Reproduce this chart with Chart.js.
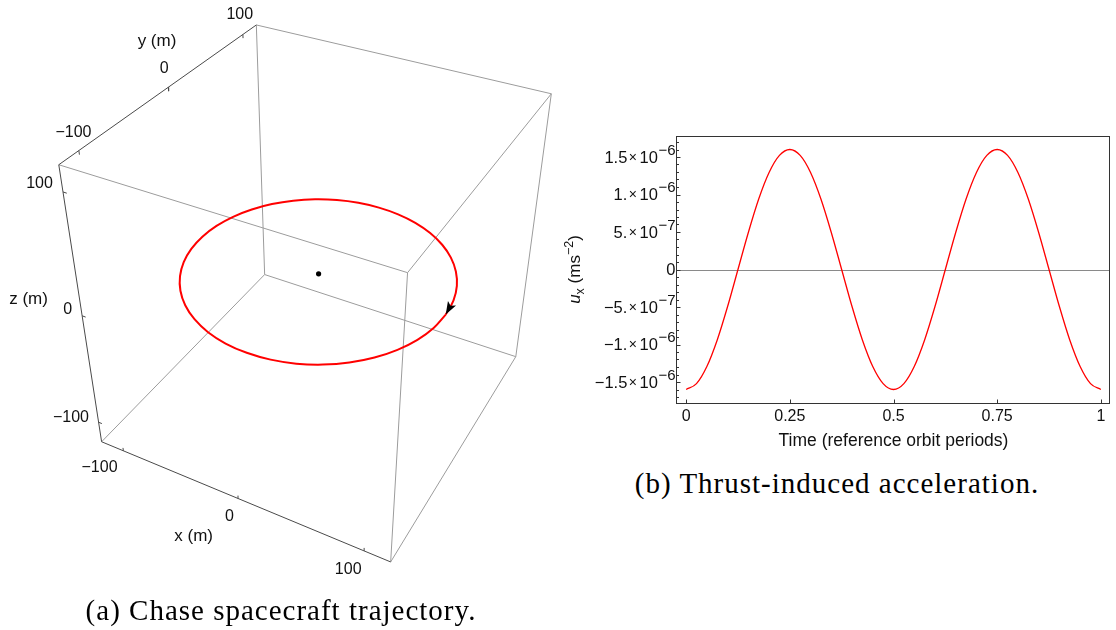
<!DOCTYPE html>
<html>
<head>
<meta charset="utf-8">
<title>Chase spacecraft trajectory and thrust-induced acceleration</title>
<script src="https://cdn.jsdelivr.net/npm/chart.js@4.4.1/dist/chart.umd.min.js"></script>
<style>
  html, body { margin: 0; padding: 0; background: #fff; }
  #wrap { position: relative; width: 1116px; height: 630px; overflow: hidden; background: #fff; }
  #c3d { position: absolute; left: 0; top: 0; }
  #c2d { position: absolute; left: 560px; top: 120px; }
  .cap {
    position: absolute; white-space: nowrap; color: #000;
    font-family: "Liberation Serif", "Times New Roman", serif;
    font-size: 29px; letter-spacing: 1px; line-height: 30px;
    transform: translateX(-50%);
  }
</style>
</head>
<body>
<div id="wrap">
  <canvas id="c3d" width="580" height="600"></canvas>
  <canvas id="c2d" width="556" height="330"></canvas>
  <div class="cap" style="left:281px; top:595px;">(a) Chase spacecraft trajectory.</div>
  <div class="cap" style="left:837px; top:468px;">(b) Thrust-induced acceleration.</div>
</div>
<script>
// ---------------- data: relative trajectory (metres) ----------------
const trajX = [100, 98.5, 94.0, 86.6, 76.6, 64.3, 50.0, 34.2, 17.4, 0, -17.4, -34.2, -50.0, -64.3, -76.6, -86.6, -94.0, -98.5,
               -100, -98.5, -94.0, -86.6, -76.6, -64.3, -50.0, -34.2, -17.4, 0, 17.4, 34.2, 50.0, 64.3, 76.6, 86.6, 94.0, 98.5, 100];
const trajY = [0, -17.4, -34.2, -50.0, -64.3, -76.6, -86.6, -94.0, -98.5, -100, -98.5, -94.0, -86.6, -76.6, -64.3, -50.0, -34.2, -17.4,
               0, 17.4, 34.2, 50.0, 64.3, 76.6, 86.6, 94.0, 98.5, 100, 98.5, 94.0, 86.6, 76.6, 64.3, 50.0, 34.2, 17.4, 0];
const trajPlaneZ = 0;              // the trajectory lies in the z = 0 plane
const targetPos = [0, 0, 0];       // target spacecraft at the origin
const boxRange = [-120, 120];      // plot range on every axis (m)
const axisTicks = [-100, 0, 100];
const axisTickLabels = ["\u2212100", "0", "100"];

// ---------------- data: thrust-induced acceleration ----------------
const timePeriods = [0, 0.025, 0.05, 0.075, 0.1, 0.125, 0.15, 0.175, 0.2, 0.225, 0.25, 0.275, 0.3, 0.325, 0.35, 0.375, 0.4, 0.425, 0.45, 0.475,
                     0.5, 0.525, 0.55, 0.575, 0.6, 0.625, 0.65, 0.675, 0.7, 0.725, 0.75, 0.775, 0.8, 0.825, 0.85, 0.875, 0.9, 0.925, 0.95, 0.975, 1];
const uxValues = [-1.6e-6, -1.522e-6, -1.294e-6, -0.94e-6, -0.494e-6, 0, 0.494e-6, 0.94e-6, 1.294e-6, 1.522e-6,
                  1.6e-6, 1.522e-6, 1.294e-6, 0.94e-6, 0.494e-6, 0, -0.494e-6, -0.94e-6, -1.294e-6, -1.522e-6,
                  -1.6e-6, -1.522e-6, -1.294e-6, -0.94e-6, -0.494e-6, 0, 0.494e-6, 0.94e-6, 1.294e-6, 1.522e-6,
                  1.6e-6, 1.522e-6, 1.294e-6, 0.94e-6, 0.494e-6, 0, -0.494e-6, -0.94e-6, -1.294e-6, -1.522e-6, -1.6e-6];
const timeTicks = [0, 0.25, 0.5, 0.75, 1];
const timeTickLabels = ["0", "0.25", "0.5", "0.75", "1"];
const accelTicks = [1.5e-6, 1e-6, 5e-7, 0, -5e-7, -1e-6, -1.5e-6];
const accelMantissa = ["1.5", "1.", "5.", "0", "\u22125.", "\u22121.", "\u22121.5"];
const accelExponent = ["\u22126", "\u22126", "\u22127", "", "\u22127", "\u22126", "\u22126"];

// ---------------- perspective view of the 3D box ----------------
const SANS = '"Liberation Sans", Arial, sans-serif';
const BOX_HALF = 120;
const view = {
  origin: [319, 273.5],
  ex: [130.5, 32.5],
  ey: [113.3, -58.9],
  ez: [-27.25, -159.3],
  depth: [-0.054, 0.105, -0.086]
};
function project(x, y, z) {
  const u = x / BOX_HALF, v = y / BOX_HALF, w = z / BOX_HALF;
  const d = 1 + view.depth[0] * u + view.depth[1] * v + view.depth[2] * w;
  return {
    x: (view.origin[0] + view.ex[0] * u + view.ey[0] * v + view.ez[0] * w) / d,
    y: (view.origin[1] + view.ex[1] * u + view.ey[1] * v + view.ez[1] * w) / d
  };
}

const lo = boxRange[0], hi = boxRange[1];
const EDGE_COLOR = '#9c9c9c';
const AXIS_COLOR = '#4a4a4a';
const datasets3d = [];

// trajectory (drawn on top)
datasets3d.push({
  label: 'trajectory',
  data: trajX.map((x, i) => project(x, trajY[i], trajPlaneZ)),
  showLine: true, borderColor: '#ff0000', borderWidth: 2, tension: 0.4,
  pointRadius: 0, order: 0
});
// target marker
datasets3d.push({
  label: 'target',
  data: [project(targetPos[0], targetPos[1], targetPos[2])],
  showLine: false, pointRadius: 2.6, pointBackgroundColor: '#000', pointBorderWidth: 0, order: 0
});

// the 12 box edges; the three labelled axes are darker
function isAxisEdge(k, a, b) {
  if (k === 0) return a === lo && b === lo;   // x axis: y = lo, z = lo
  if (k === 1) return a === lo && b === hi;   // y axis: x = lo, z = hi
  return a === lo && b === lo;                // z axis: x = lo, y = lo
}
for (let k = 0; k < 3; k++) {
  for (const a of [lo, hi]) {
    for (const b of [lo, hi]) {
      let p0, p1;
      if (k === 0) { p0 = [lo, a, b]; p1 = [hi, a, b]; }
      else if (k === 1) { p0 = [a, lo, b]; p1 = [a, hi, b]; }
      else { p0 = [a, b, lo]; p1 = [a, b, hi]; }
      const axis = isAxisEdge(k, a, b);
      datasets3d.push({
        label: 'edge',
        data: [project(...p0), project(...p1)],
        showLine: true, borderColor: axis ? AXIS_COLOR : EDGE_COLOR, borderWidth: 1,
        pointRadius: 0, tension: 0, order: axis ? 1 : 2
      });
    }
  }
}
// tick marks on the three axes
const TICK_LEN = 3;
axisTicks.forEach(t => {
  datasets3d.push({ label: 'tick', data: [project(t, lo, lo), project(t, lo, lo + TICK_LEN)],
    showLine: true, borderColor: AXIS_COLOR, borderWidth: 1, pointRadius: 0, order: 1 });
  datasets3d.push({ label: 'tick', data: [project(lo, t, hi), project(lo, t, hi - TICK_LEN)],
    showLine: true, borderColor: AXIS_COLOR, borderWidth: 1, pointRadius: 0, order: 1 });
  datasets3d.push({ label: 'tick', data: [project(lo, lo, t), project(lo + TICK_LEN, lo, t)],
    showLine: true, borderColor: AXIS_COLOR, borderWidth: 1, pointRadius: 0, order: 1 });
});

// arrowhead at the end of the trajectory, along the drawn curve
const arrowPlugin = {
  id: 'arrowHead',
  afterDatasetsDraw(chart) {
    const meta = chart.getDatasetMeta(0);
    const pts = meta.data;
    const end = pts[pts.length - 1];
    const prev = pts[pts.length - 2];
    let dx = end.x - (end.cp1x !== undefined ? end.cp1x : prev.x);
    let dy = end.y - (end.cp1y !== undefined ? end.cp1y : prev.y);
    if (Math.hypot(dx, dy) < 0.5) { dx = end.x - prev.x; dy = end.y - prev.y; }
    const ang = Math.atan2(dy, dx);
    const ctx = chart.ctx;
    ctx.save();
    ctx.translate(end.x, end.y);
    ctx.rotate(ang);
    ctx.beginPath();
    ctx.moveTo(0, 0);
    ctx.lineTo(-13, -4.6);
    ctx.lineTo(-10, 0);
    ctx.lineTo(-13, 4.6);
    ctx.closePath();
    ctx.fillStyle = '#000';
    ctx.fill();
    ctx.restore();
  }
};

// tick labels and axis titles of the 3D box
const boxLabelPlugin = {
  id: 'boxLabels',
  afterDraw(chart) {
    const ctx = chart.ctx;
    ctx.save();
    ctx.fillStyle = '#111';
    ctx.textBaseline = 'middle';
    ctx.font = '16px ' + SANS;
    axisTicks.forEach((t, i) => {
      const lab = axisTickLabels[i];
      let p = project(t, lo, lo);
      ctx.textAlign = 'right';
      ctx.fillText(lab, p.x - 3.5, p.y + 15);
      p = project(lo, t, hi);
      ctx.textAlign = 'center';
      ctx.fillText(lab, p.x - 2.5, p.y - 16);
      p = project(lo, lo, t);
      ctx.textAlign = 'right';
      ctx.fillText(lab, p.x - 7, p.y - 6.5);
    });
    ctx.font = '17px ' + SANS;
    ctx.textAlign = 'center';
    let p = project(0, lo, lo);
    ctx.fillText('x (m)', p.x - 43.8, p.y + 34.8);
    p = project(lo, 0, hi);
    ctx.fillText('y (m)', p.x - 9.6, p.y - 42.7);
    p = project(lo, lo, 0);
    ctx.fillText('z (m)', p.x - 50.7, p.y - 16.7);
    ctx.restore();
  }
};

new Chart(document.getElementById('c3d'), {
  type: 'scatter',
  data: { datasets: datasets3d },
  options: {
    responsive: false, animation: false, devicePixelRatio: 1, events: [],
    layout: { padding: 0 },
    plugins: { legend: { display: false }, tooltip: { enabled: false } },
    scales: {
      x: { type: 'linear', min: 0, max: 580, display: false },
      y: { type: 'linear', min: 0, max: 600, reverse: true, display: false }
    }
  },
  plugins: [arrowPlugin, boxLabelPlugin]
});

// ---------------- 2D plot: frame, ticks, labels ----------------
const FRAME_COLOR = '#333';
const framePlugin = {
  id: 'frameAxes',
  beforeDatasetsDraw(chart) {
    const { ctx, chartArea: a, scales } = chart;
    const y0 = Math.round(scales.y.getPixelForValue(0)) + 0.5;
    ctx.save();
    ctx.strokeStyle = '#8a8a8a';
    ctx.lineWidth = 1;
    ctx.beginPath();
    ctx.moveTo(a.left, y0);
    ctx.lineTo(a.right, y0);
    ctx.stroke();
    ctx.restore();
  },
  afterDraw(chart) {
    const { ctx, chartArea: a, scales } = chart;
    const L = Math.round(a.left) - 0.5, R = Math.round(a.right) - 0.5;
    const T = Math.round(a.top) + 0.5, B = Math.round(a.bottom) + 0.5;
    ctx.save();
    ctx.strokeStyle = FRAME_COLOR;
    ctx.lineWidth = 1;
    ctx.strokeRect(L, T, R - L, B - T);
    // inward tick marks: majors on the labelled values, minors every 1e-7
    ctx.beginPath();
    for (let k = -17; k <= 17; k++) {
      const yy = Math.round(scales.y.getPixelForValue(k * 1e-7)) + 0.5;
      const len = (k % 5 === 0) ? 4 : 2.5;
      ctx.moveTo(L, yy); ctx.lineTo(L + len, yy);
    }
    timeTicks.forEach(t => {
      const xx = Math.round(scales.x.getPixelForValue(t)) + 0.5;
      ctx.moveTo(xx, B); ctx.lineTo(xx, B - 4);
    });
    ctx.stroke();

    // y tick labels with powers of ten
    ctx.fillStyle = '#111';
    ctx.textBaseline = 'alphabetic';
    ctx.textAlign = 'left';
    const mainFont = '16.5px ' + SANS, timesFont = '14px ' + SANS, supFont = '15px ' + SANS;
    const rightEdge = L - 1;
    accelTicks.forEach((v, i) => {
      const yy = scales.y.getPixelForValue(v);
      const base = yy + 5.8;
      const m = accelMantissa[i], e = accelExponent[i];
      if (!e) {
        ctx.font = mainFont;
        const w = ctx.measureText(m).width;
        ctx.fillText(m, rightEdge - w, base);
        return;
      }
      ctx.font = mainFont;
      const wm = ctx.measureText(m).width, w10 = ctx.measureText('10').width;
      ctx.font = timesFont;
      const wx = ctx.measureText('\u00d7').width;
      ctx.font = supFont;
      const we = ctx.measureText(e).width;
      const g1 = 1.5, g2 = 2.5, g3 = 0.5;
      let x = rightEdge - (wm + g1 + wx + g2 + w10 + g3 + we);
      ctx.font = mainFont; ctx.fillText(m, x, base); x += wm + g1;
      ctx.font = timesFont; ctx.fillText('\u00d7', x, base - 1); x += wx + g2;
      ctx.font = mainFont; ctx.fillText('10', x, base); x += w10 + g3;
      ctx.font = supFont; ctx.fillText(e, x, base - 8);
    });

    // x axis title
    ctx.font = '17.5px ' + SANS;
    ctx.textAlign = 'center';
    ctx.textBaseline = 'middle';
    ctx.fillText('Time (reference orbit periods)', (a.left + a.right) / 2, a.bottom + 38.5);

    // y axis title: u_x (ms^-2), rotated
    const cy = (a.top + a.bottom) / 2;
    ctx.translate(14, cy);
    ctx.rotate(-Math.PI / 2);
    ctx.textAlign = 'left';
    ctx.textBaseline = 'alphabetic';
    const big = '17px ' + SANS, small = '12.5px ' + SANS, ital = 'italic 17px ' + SANS;
    const parts = [
      { t: 'u', f: ital, dy: 0 },
      { t: 'x', f: small, dy: 4 },
      { t: ' (ms', f: big, dy: 0 },
      { t: '\u22122', f: small, dy: -7.5 },
      { t: ')', f: big, dy: 0 }
    ];
    let total = 0;
    parts.forEach(p => { ctx.font = p.f; p.w = ctx.measureText(p.t).width; total += p.w; });
    let px = -total / 2;
    parts.forEach(p => { ctx.font = p.f; ctx.fillText(p.t, px, 6 + p.dy); px += p.w; });
    ctx.restore();
  }
};

new Chart(document.getElementById('c2d'), {
  type: 'scatter',
  data: {
    datasets: [{
      label: 'u_x',
      data: timePeriods.map((t, i) => ({ x: t, y: uxValues[i] })),
      showLine: true, borderColor: '#ff0000', borderWidth: 1.3,
      cubicInterpolationMode: 'monotone', pointRadius: 0
    }]
  },
  options: {
    responsive: false, animation: false, devicePixelRatio: 1, events: [],
    layout: { padding: { top: 16, right: 6, left: 0, bottom: 0 } },
    plugins: { legend: { display: false }, tooltip: { enabled: false } },
    scales: {
      x: {
        type: 'linear', min: -0.022, max: 1.022,
        grid: { display: false, drawTicks: false }, border: { display: false },
        afterBuildTicks(s) { s.ticks = timeTicks.map(v => ({ value: v })); },
        afterFit(s) { s.height = 47; },
        ticks: {
          autoSkip: false, maxRotation: 0, padding: 4, color: '#111',
          font: { family: SANS, size: 16 },
          callback(v) { const i = timeTicks.indexOf(v); return i >= 0 ? timeTickLabels[i] : ''; }
        }
      },
      y: {
        type: 'linear', min: -1.78e-6, max: 1.78e-6,
        grid: { display: false, drawTicks: false }, border: { display: false },
        ticks: { display: false },
        afterFit(s) { s.width = 117; }
      }
    }
  },
  plugins: [framePlugin]
});
</script>
</body>
</html>
